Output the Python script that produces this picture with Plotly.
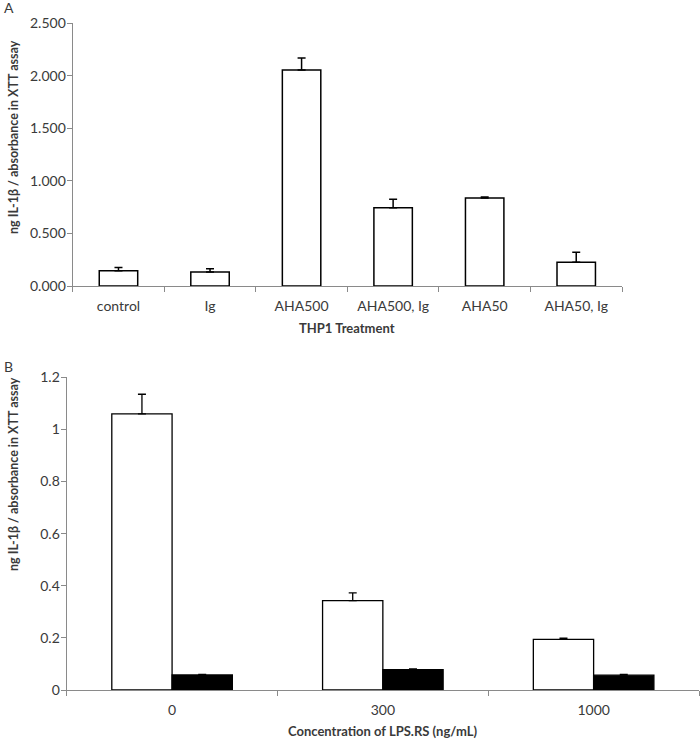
import plotly.graph_objects as go

# Panel A data
a_categories = ["control", "Ig", "AHA500", "AHA500, Ig", "AHA50", "AHA50, Ig"]
a_values = [0.145, 0.133, 2.055, 0.745, 0.838, 0.225]
a_errors = [0.030, 0.030, 0.115, 0.080, 0.010, 0.095]
a_yticks = [0, 0.5, 1.0, 1.5, 2.0, 2.5]

# Panel B data
b_categories = ["0", "300", "1000"]
b_white = [1.060, 0.343, 0.194]
b_white_err = [0.075, 0.030, 0.005]
b_black = [0.058, 0.078, 0.057]
b_black_err = [0.002, 0.003, 0.003]
b_yticks = [0, 0.2, 0.4, 0.6, 0.8, 1.0, 1.2]

FONT = "Lato"
TXT = "#3a3a3a"
AX = "#8a8a8a"

fig = go.Figure()

fig.add_trace(go.Bar(
    x=a_categories, y=a_values, width=0.42,
    marker=dict(color="white", line=dict(color="black", width=1.5)),
    error_y=dict(type="data", symmetric=False, array=a_errors,
                 arrayminus=[0] * len(a_errors), color="black",
                 thickness=1.5, width=4),
    xaxis="x", yaxis="y", showlegend=False))

fig.add_trace(go.Bar(
    x=b_categories, y=b_white, width=0.286, offset=-0.286,
    marker=dict(color="white", line=dict(color="black", width=1.3)),
    error_y=dict(type="data", symmetric=False, array=b_white_err,
                 arrayminus=[0] * len(b_white_err), color="black",
                 thickness=1.3, width=4),
    xaxis="x2", yaxis="y2", showlegend=False))

fig.add_trace(go.Bar(
    x=b_categories, y=b_black, width=0.286, offset=0,
    marker=dict(color="black", line=dict(color="black", width=1.3)),
    error_y=dict(type="data", symmetric=False, array=b_black_err,
                 arrayminus=[0] * len(b_black_err), color="black",
                 thickness=1.3, width=4),
    xaxis="x2", yaxis="y2", showlegend=False))

H = 743.0
W = 700.0

def py(p):
    return 1 - p / H

def px(p):
    return p / W

axis_common = dict(showline=True, linecolor=AX, linewidth=1.2, showgrid=False,
                   zeroline=False, ticks="outside", tickcolor=AX, ticklen=5,
                   tickwidth=1.2, automargin=False,
                   tickfont=dict(family=FONT, size=14, color=TXT))

fig.update_layout(
    width=700, height=743,
    margin=dict(l=0, r=0, t=0, b=0, autoexpand=False),
    paper_bgcolor="white", plot_bgcolor="white",
    font=dict(family=FONT, color=TXT),
    barmode="overlay",
    xaxis=dict(domain=[px(72.7), px(622)], anchor="y", type="category",
               tickson="boundaries", ticklabelstandoff=7, **axis_common),
    yaxis=dict(domain=[py(286), py(23.3)], anchor="x", range=[0, 2.5],
               tickvals=a_yticks, tickformat=".3f", ticklabelstandoff=-2,
               **axis_common),
    xaxis2=dict(domain=[px(66.7), px(699)], anchor="y2", type="category",
                tickson="boundaries", ticklabelstandoff=7, **axis_common),
    yaxis2=dict(domain=[py(690), py(377.3)], anchor="x2", range=[0, 1.2],
                tickvals=b_yticks, ticklabelstandoff=-2, **axis_common),
)

title_font = dict(family=FONT, size=12.5, color=TXT)
common_ann = dict(xref="paper", yref="paper", showarrow=False,
                  xanchor="center", yanchor="middle")
ann = [
    dict(text="A", x=px(9), y=py(8), font=dict(family=FONT, size=14, color=TXT), **common_ann),
    dict(text="B", x=px(8), y=py(366), font=dict(family=FONT, size=14, color=TXT), **common_ann),
    dict(text="<b>ng IL-1β / absorbance in XTT assay</b>", x=px(13), y=py(137),
         textangle=-90, font=title_font, **common_ann),
    dict(text="<b>ng IL-1β / absorbance in XTT assay</b>", x=px(13), y=py(474),
         textangle=-90, font=title_font, **common_ann),
    dict(text="<b>THP1 Treatment</b>", x=px(347), y=py(328),
         font=dict(family=FONT, size=13, color=TXT), **common_ann),
    dict(text="<b>Concentration of LPS.RS (ng/mL)</b>", x=px(382), y=py(731),
         font=dict(family=FONT, size=13, color=TXT), **common_ann),
]
fig.update_layout(annotations=ann)

fig.write_html("out.html", config={"displayModeBar": False},
               post_script="document.body.style.margin='0';document.body.style.overflow='hidden';")
